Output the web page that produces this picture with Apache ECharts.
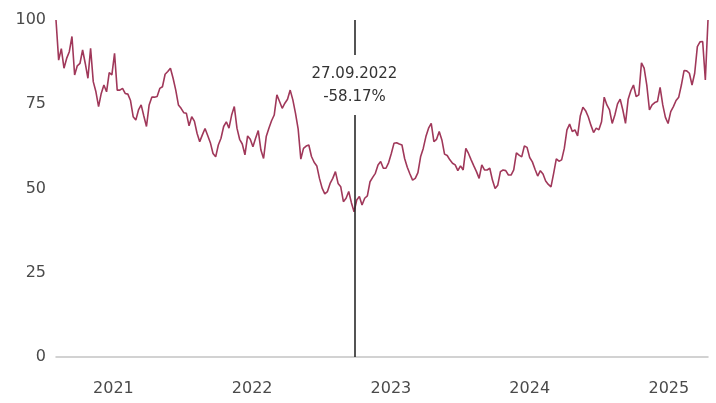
<!DOCTYPE html>
<html>
<head>
<meta charset="utf-8">
<script src="https://cdn.jsdelivr.net/npm/echarts@6/dist/echarts.min.js"></script>
<style>
html,body{margin:0;padding:0;background:#fff;}
#chart{width:716px;height:403px;}
</style>
</head>
<body>
<div id="chart"></div>
<script>
// Weekly series starting on this date
const seriesStart = '2020-08-03';
const seriesEnd = '2025-04-14';
const stepDays = 7;
const values = [
  100, 88.1, 91.5, 85.7, 88.6, 90.6, 95.1, 83.7, 86.4, 87.1,
  91.1, 87.1, 82.7, 91.6, 81.7, 78.7, 74.3, 78.2, 80.7, 78.7,
  84.4, 83.7, 90.1, 79.2, 79.2, 79.7, 78.2, 78.0, 76.1, 71.3,
  70.3, 73.3, 74.8, 71.5, 68.4, 74.8, 77.1, 77.1, 77.3, 79.7,
  80.2, 83.9, 84.7, 85.7, 82.7, 79.2, 74.8, 73.8, 72.5, 72.3,
  68.6, 71.3, 70.0, 66.4, 63.9, 65.9, 67.8, 65.7, 63.6, 60.4,
  59.4, 62.9, 64.9, 68.4, 69.8, 67.9, 71.8, 74.3, 67.9, 64.6,
  63.2, 60.0, 65.6, 64.6, 62.4, 64.9, 67.2, 61.4, 58.9, 65.4,
  67.9, 70.1, 71.8, 77.8, 75.8, 73.8, 75.3, 76.5, 79.2, 76.3,
  72.3, 67.6, 58.7, 61.9, 62.6, 62.9, 59.5, 57.8, 56.7, 53.0,
  50.1, 48.4, 49.1, 51.5, 53.0, 55.0, 51.5, 50.5, 46.1, 47.1,
  49.1, 45.8, 43.1, 46.6, 47.6, 45.1, 47.1, 47.8, 52.0, 53.3,
  54.5, 57.0, 58.0, 56.0, 56.0, 57.7, 60.4, 63.4, 63.6, 63.2,
  62.9, 58.9, 56.3, 54.3, 52.5, 53.0, 54.7, 59.4, 61.9, 65.4,
  67.9, 69.3, 63.9, 64.6, 66.9, 64.4, 60.2, 59.8, 58.5, 57.5,
  57.0, 55.3, 56.7, 55.5, 61.9, 60.4, 58.5, 56.7, 55.0, 53.0,
  57.0, 55.5, 55.5, 56.0, 52.5, 50.0, 51.0, 55.0, 55.5, 55.3,
  54.0, 54.0, 55.5, 60.6, 59.9, 59.4, 62.6, 62.2, 59.2, 57.9,
  55.7, 53.7, 55.3, 54.3, 52.2, 51.2, 50.5, 54.5, 58.8, 58.1,
  58.5, 61.9, 67.4, 69.1, 66.9, 67.4, 65.6, 71.5, 74.1, 73.1,
  71.3, 68.8, 66.6, 67.9, 67.4, 69.8, 77.1, 74.8, 73.3, 69.3,
  71.8, 75.1, 76.5, 73.3, 69.3, 76.5, 79.0, 80.7, 77.3, 77.8,
  87.3, 85.7, 80.7, 73.3, 74.8, 75.5, 75.8, 80.0, 74.8, 71.1,
  69.3, 72.8, 74.3, 76.1, 77.1, 80.7, 85.0, 84.9, 84.2, 80.7,
  84.2, 92.1, 93.5, 93.6, 82.2, 100
];
const yearLabels = ['2021', '2022', '2023', '2024', '2025'];
const yTicks = [0, 25, 50, 75, 100];
const eventDate = '2022-09-27';
const eventLabel = '27.09.2022';
const eventChange = '-58.17%';
const labelGapLow = 71.8;
const labelGapHigh = 89.6;

function parseLocal(s) {
  const p = s.split('-').map(Number);
  return new Date(p[0], p[1] - 1, p[2]).getTime();
}
const startTs = parseLocal(seriesStart);
const data = values.map((v, i) => [startTs + i * stepDays * 86400000, v]);
const yearTs = yearLabels.map(y => new Date(+y, 0, 1).getTime());
const eventTs = parseLocal(eventDate);

const chart = echarts.init(document.getElementById('chart'), null, {renderer: 'canvas'});
const font = 'DejaVu Sans';
chart.setOption({
  animation: false,
  grid: {left: 56, right: 8, top: 20, bottom: 46},
  xAxis: {
    type: 'value',
    min: startTs,
    max: parseLocal(seriesEnd),
    axisLine: {show: true, lineStyle: {color: '#c4c4c4', width: 1.5}},
    axisTick: {show: false},
    splitLine: {show: false},
    axisLabel: {
      customValues: yearTs,
      formatter: function (v) {
        const idx = yearTs.indexOf(v);
        return idx >= 0 ? yearLabels[idx] : '';
      },
      color: '#4a4a4a',
      fontFamily: font,
      fontSize: 16,
      margin: 24
    }
  },
  yAxis: {
    type: 'value',
    min: 0,
    max: 100,
    interval: 25,
    axisLine: {show: false},
    axisTick: {show: false},
    splitLine: {show: false},
    axisLabel: {
      color: '#4a4a4a',
      fontFamily: font,
      fontSize: 16,
      margin: 10,
      formatter: function (v) { return yTicks.indexOf(v) >= 0 ? String(v) : ''; }
    }
  },
  series: [{
    type: 'line',
    data: data,
    showSymbol: false,
    symbol: 'none',
    lineStyle: {color: '#a0385a', width: 1.6},
    itemStyle: {color: '#a0385a'},
    markLine: {
      silent: true,
      symbol: 'none',
      animation: false,
      lineStyle: {color: '#2a2a2a', width: 1.6, type: 'solid'},
      data: [
        [
          {coord: [eventTs, 0], label: {show: true, position: 'end', distance: 6,
            formatter: eventLabel + '\n' + eventChange,
            color: '#333', fontFamily: font, fontSize: 15, lineHeight: 23}},
          {coord: [eventTs, labelGapLow]}
        ],
        [
          {coord: [eventTs, labelGapHigh], label: {show: false}},
          {coord: [eventTs, 100]}
        ]
      ]
    }
  }]
});
</script>
</body>
</html>
